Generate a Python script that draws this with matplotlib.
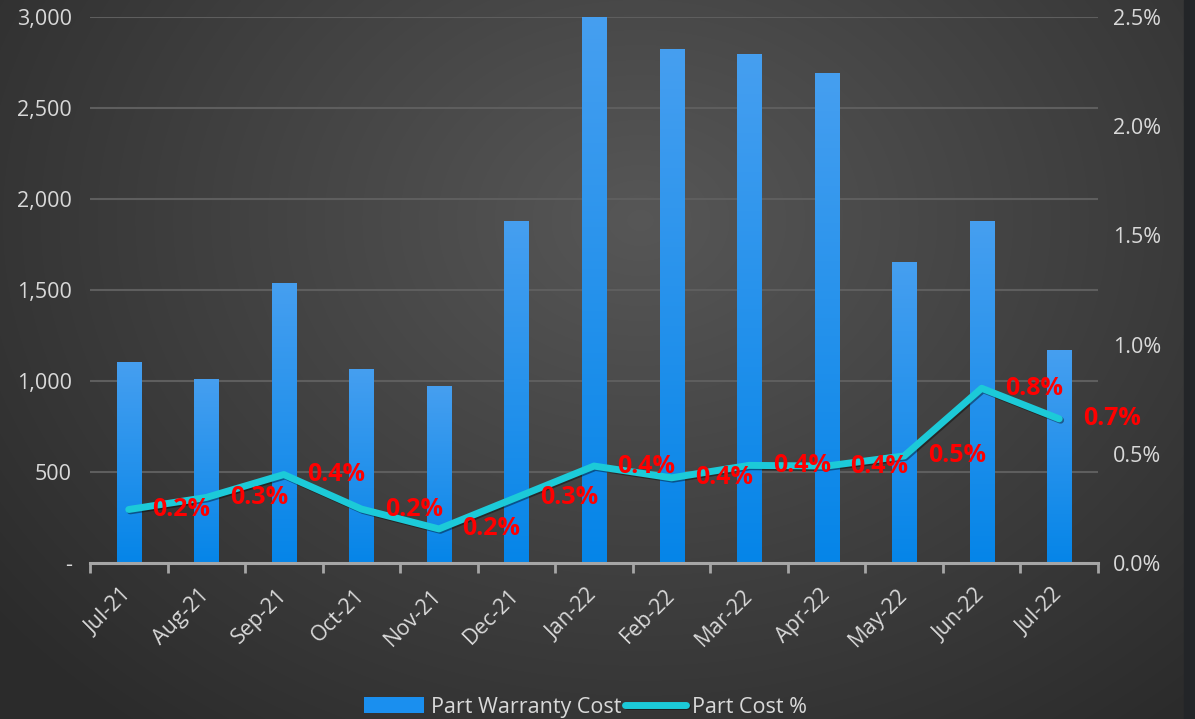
import numpy as np
import matplotlib.pyplot as plt
from matplotlib.colors import LinearSegmentedColormap
from matplotlib.patches import Rectangle
from matplotlib.ticker import FuncFormatter, FixedLocator
import matplotlib.patheffects as pe

plt.rcParams['font.family'] = ['Open Sans', 'DejaVu Sans']

# monthly data
months = ["Jul-21", "Aug-21", "Sep-21", "Oct-21", "Nov-21", "Dec-21", "Jan-22",
          "Feb-22", "Mar-22", "Apr-22", "May-22", "Jun-22", "Jul-22"]
warranty_cost = [1107, 1013, 1540, 1068, 970, 1878, 3000,
                 2822, 2794, 2694, 1655, 1878, 1168]
cost_pct = [0.245, 0.30, 0.405, 0.247, 0.156, 0.30, 0.444,
            0.39, 0.447, 0.444, 0.49, 0.80, 0.66]

txt = "#d9d9d9"
fig = plt.figure(figsize=(11.95, 7.19), dpi=100)

# radial background
bg = fig.add_axes([0, 0, 1, 1], zorder=-5)
yy, xx = np.mgrid[0:719, 0:1195]
r = np.sqrt(((xx - 640) / 820.0) ** 2 + ((yy - 220) / 650.0) ** 2)
shade = np.clip(0.34 - 0.17 * r, 0.17, 0.34)
bg.imshow(np.dstack([shade, shade, shade]), aspect='auto', extent=[0, 1, 0, 1])
bg.set_xlim(0, 1)
bg.set_ylim(0, 1)
bg.axis('off')
fig.patches.append(Rectangle((1184 / 1195, 0), 11 / 1195, 1, transform=fig.transFigure,
                             color="#232528", zorder=-4))

ax = fig.add_axes([90 / 1195, 1 - 563 / 719, 1008 / 1195, 546 / 719])
ax.set_facecolor('none')
x = np.arange(len(months))

bars = ax.bar(x, warranty_cost, width=0.31, color="#1a8fef", zorder=3,
              edgecolor="#2b3a4a", linewidth=0.6)
bar_cmap = LinearSegmentedColormap.from_list("bar", ["#0585e8", "#469ff0"])
grad = np.linspace(0, 1, 256).reshape(-1, 1)
for b in bars:
    im = ax.imshow(grad, cmap=bar_cmap, origin='lower', aspect='auto', zorder=3.5,
                   extent=[b.get_x(), b.get_x() + b.get_width(), 0, b.get_height()])
    im.set_clip_path(b)

ax.set_xlim(-0.5, len(months) - 0.5)
ax.set_ylim(0, 3000)
ax.set_yticks(np.arange(0, 3001, 500))
ax.yaxis.set_major_formatter(FuncFormatter(lambda v, p: "-" if v == 0 else f"{v:,.0f}"))
ax.grid(axis='y', color="#5e5e5e", linewidth=1.5, zorder=0)
ax.set_axisbelow(True)

ax.set_xticks(x)
ax.set_xticklabels(months, rotation=45, ha='right', va='center', rotation_mode='anchor')
ax.xaxis.set_minor_locator(FixedLocator(np.arange(-0.5, len(months), 1)))
ax.tick_params(axis='x', which='major', length=0, pad=21, labelsize=15.5, labelcolor=txt)
ax.tick_params(axis='x', which='minor', length=7, width=2, color="#a6a6a6", direction='out')
ax.tick_params(axis='y', length=0, pad=13, labelsize=15.5, labelcolor=txt)
for s in ['top', 'right', 'left']:
    ax.spines[s].set_visible(False)
ax.spines['bottom'].set_color("#a6a6a6")
ax.spines['bottom'].set_linewidth(2.2)
ax.spines['bottom'].set_zorder(4)

ax2 = ax.twinx()
ax2.set_ylim(0, 2.5)
ax2.set_yticks(np.arange(0, 2.51, 0.5))
ax2.yaxis.set_major_formatter(FuncFormatter(lambda v, p: f"{v:.1f}%"))
ax2.tick_params(axis='y', length=0, pad=11, labelsize=15.5, labelcolor=txt)
for s in ax2.spines.values():
    s.set_visible(False)

line, = ax2.plot(x, cost_pct, color="#1ccad8", linewidth=5, solid_capstyle='round',
                 solid_joinstyle='round', zorder=5,
                 path_effects=[pe.SimpleLineShadow(offset=(1, -1), alpha=0.4), pe.Normal()])
for xi, v in zip(x, cost_pct):
    ax2.annotate(f"{v:.1f}%", (xi, v), xytext=(17, 0), textcoords='offset points',
                 ha='left', va='center', color="#ff0000", fontsize=18, fontweight='bold',
                 zorder=6)

leg_bar = Rectangle((0, 0), 1, 1, facecolor="#1a8fef", edgecolor="none")
leg = fig.legend([leg_bar, line], ["Part Warranty Cost", "Part Cost %"], loc='lower center',
                 bbox_to_anchor=(0.49, -0.025), ncol=2, frameon=False, fontsize=15.5,
                 handlelength=2.8, handleheight=0.75, handletextpad=0.3, columnspacing=0.2)
for t in leg.get_texts():
    t.set_color(txt)

fig.savefig("out.png", dpi=100)
